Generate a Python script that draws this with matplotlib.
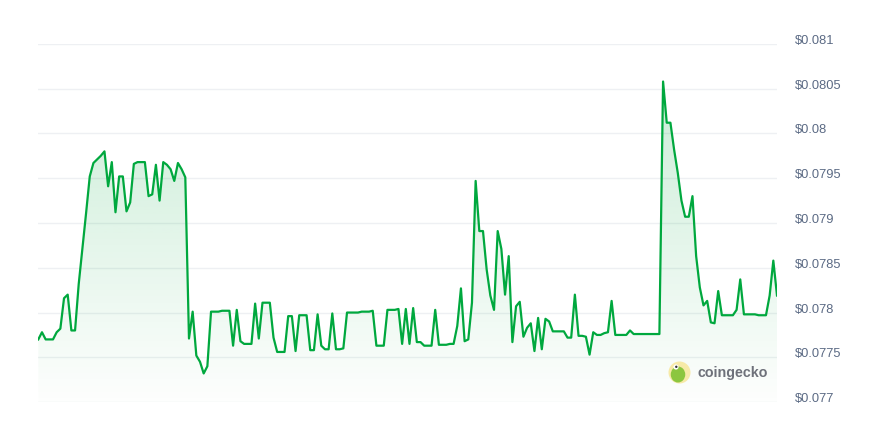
import numpy as np
import matplotlib
matplotlib.use("Agg")
import matplotlib.pyplot as plt
from matplotlib.patches import Circle, Ellipse

# ---- data ----
prices = [
    0.07770, 0.07778, 0.07770, 0.07770, 0.07770, 0.07778, 0.07782, 0.07816, 0.07820, 0.07780,
    0.07780, 0.07832, 0.07871, 0.07911, 0.07952, 0.07967, 0.07971, 0.07975, 0.07980, 0.07941,
    0.07968, 0.07912, 0.07952, 0.07952, 0.07913, 0.07923, 0.07966, 0.07968, 0.07968, 0.07968,
    0.07930, 0.07932, 0.07965, 0.07925, 0.07968, 0.07965, 0.07960, 0.07947, 0.07967, 0.07960,
    0.07951, 0.07771, 0.07801, 0.07752, 0.07745, 0.07732, 0.07740, 0.07801, 0.07801, 0.07801,
    0.07802, 0.07802, 0.07802, 0.07763, 0.07803, 0.07768, 0.07765, 0.07765, 0.07765, 0.07810,
    0.07771, 0.07811, 0.07811, 0.07811, 0.07772, 0.07756, 0.07756, 0.07756, 0.07796, 0.07796,
    0.07757, 0.07797, 0.07797, 0.07797, 0.07758, 0.07758, 0.07798, 0.07763, 0.07759, 0.07759,
    0.07799, 0.07759, 0.07759, 0.07760, 0.07800, 0.07800, 0.07800, 0.07800, 0.07801, 0.07801,
    0.07801, 0.07802, 0.07763, 0.07763, 0.07763, 0.07803, 0.07803, 0.07803, 0.07804, 0.07765,
    0.07804, 0.07765, 0.07805, 0.07767, 0.07767, 0.07763, 0.07763, 0.07763, 0.07803, 0.07764,
    0.07764, 0.07764, 0.07765, 0.07765, 0.07785, 0.07827, 0.07768, 0.07770, 0.07811, 0.07947,
    0.07891, 0.07891, 0.07848, 0.07819, 0.07803, 0.07891, 0.07871, 0.07820, 0.07863, 0.07767,
    0.07807, 0.07812, 0.07773, 0.07783, 0.07788, 0.07757, 0.07794, 0.07759, 0.07793, 0.07790,
    0.07779, 0.07779, 0.07779, 0.07779, 0.07772, 0.07772, 0.07820, 0.07774, 0.07774, 0.07773,
    0.07753, 0.07778, 0.07775, 0.07775, 0.07777, 0.07778, 0.07813, 0.07775, 0.07775, 0.07775,
    0.07775, 0.07780, 0.07776, 0.07776, 0.07776, 0.07776, 0.07776, 0.07776, 0.07776, 0.07776,
    0.08058, 0.08012, 0.08012, 0.07982, 0.07956, 0.07925, 0.07907, 0.07907, 0.07930, 0.07863,
    0.07828, 0.07808, 0.07813, 0.07789, 0.07788, 0.07824, 0.07797, 0.07797, 0.07797, 0.07797,
    0.07803, 0.07837, 0.07798, 0.07798, 0.07798, 0.07798, 0.07797, 0.07797, 0.07797, 0.07819,
    0.07858, 0.07819,
]
ytick_values = [0.077, 0.0775, 0.078, 0.0785, 0.079, 0.0795, 0.080, 0.0805, 0.081]
ytick_labels = ["$0.077", "$0.0775", "$0.078", "$0.0785", "$0.079",
                "$0.0795", "$0.08", "$0.0805", "$0.081"]
watermark = "coingecko"

# ---- figure ----
W, H = 883, 423
fig = plt.figure(figsize=(W / 100, H / 100), dpi=100)
fig.patch.set_facecolor("white")

left_px, right_px, top_px, bottom_px = 38.3, 777.0, 43.9, 402.1
ax = fig.add_axes([left_px / W, (H - bottom_px) / H,
                   (right_px - left_px) / W, (bottom_px - top_px) / H])

x = np.arange(len(prices))
y = np.array(prices)
ymin, ymax = ytick_values[0], ytick_values[-1]
ax.set_xlim(0, len(prices) - 1)
ax.set_ylim(ymin, ymax)

green = "#00a83e"

# gradient fill under the line
poly = ax.fill_between(x, y, ymin, facecolor="none", edgecolor="none")
n = 256
grad = np.zeros((n, 1, 4))
grad[:, 0, 0] = 0 / 255
grad[:, 0, 1] = 168 / 255
grad[:, 0, 2] = 62 / 255
grad[:, 0, 3] = np.linspace(0.01, 0.23, n)
im = ax.imshow(grad, extent=[x[0], x[-1], ymin, ymax], origin="lower",
               aspect="auto", interpolation="bilinear", zorder=1)
im.set_clip_path(poly.get_paths()[0], ax.transData)

ax.plot(x, y, color=green, lw=1.6, zorder=3, solid_joinstyle="round")

# grid & axes styling
ax.set_yticks(ytick_values)
ax.set_yticklabels(ytick_labels)
ax.yaxis.tick_right()
ax.tick_params(axis="y", length=0, pad=12.9, labelsize=9.3, labelcolor="#5b6a84")
for t in ax.get_yticklabels():
    t.set_fontfamily("Liberation Sans")
    t.set_verticalalignment("baseline")
ax.set_xticks([])
ax.grid(axis="y", color="#eef0f3", lw=1.0, zorder=0)
ax.set_axisbelow(True)
for s in ax.spines.values():
    s.set_visible(False)

# watermark overlay (pixel coordinates)
ov = fig.add_axes([0, 0, 1, 1], zorder=5)
ov.set_xlim(0, W)
ov.set_ylim(H, 0)
ov.axis("off")
ov.patch.set_alpha(0)
ov.add_patch(Circle((679.5, 372.5), 11.0, facecolor="#f7eaa8", edgecolor="none"))
ov.add_patch(Ellipse((678.0, 374.5), 14.5, 16.0, facecolor="#8cc63f", edgecolor="none"))
ov.add_patch(Circle((676.0, 367.0), 2.6, facecolor="white", edgecolor="none"))
ov.add_patch(Circle((676.3, 366.8), 1.2, facecolor="#333333", edgecolor="none"))
ov.text(698, 373, watermark, fontsize=10.3, fontweight="bold", color="#6e717a",
        ha="left", va="center", family="Liberation Sans")

fig.savefig("out.png", dpi=100)
